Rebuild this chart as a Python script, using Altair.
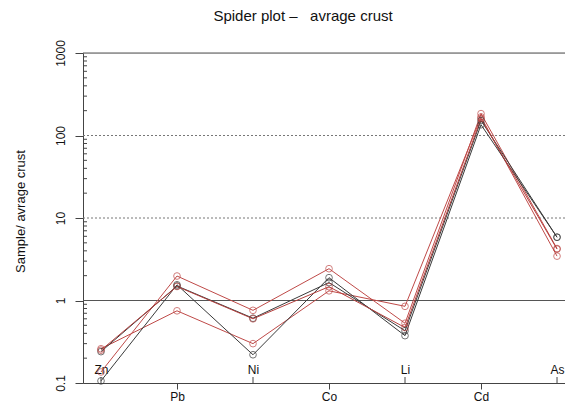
import altair as alt
import pandas as pd

# categories (elements) along the x axis
elements = ["Zn", "Pb", "Ni", "Co", "Li", "Cd", "As"]
inner_labels = ["Zn", "Ni", "Li", "As"]

# sample / average crust ratios
s1 = [0.136, 1.98, 0.76, 2.43, 0.53, 184, 4.26]
s2 = [0.26, 0.75, 0.30, 1.31, 0.85, 168, 3.45]
s3 = [0.24, 1.50, 0.61, 1.65, 0.43, 152, 5.85]
s4 = [0.106, 1.55, 0.22, 1.89, 0.375, 135, 5.85]
s5 = [0.25, 1.48, 0.60, 1.47, 0.47, 160, 4.20]

series_names = ["S1", "S2", "S3", "S4", "S5"]
series_values = [s1, s2, s3, s4, s5]
series_colors = ["#bf4a48", "#bf4a48", "#3a3a3a", "#3a3a3a", "#b5403e"]

y_ticks = [0.1, 1, 10, 100, 1000]
grid_vals = [1000, 100, 10, 1]
grid_dash = ["solid", "dot", "dot", "solid"]
minor_vals = [m * d for d in [0.1, 1, 10, 100] for m in range(2, 10)]

rows = []
for name, vals in zip(series_names, series_values):
    for i, (el, v) in enumerate(zip(elements, vals)):
        rows.append({"series": name, "element": el, "idx": i, "v": v})
df = pd.DataFrame(rows)

grid_df = pd.DataFrame({"v": grid_vals, "kind": grid_dash})
minor_df = pd.DataFrame({"v": minor_vals})
inner_df = pd.DataFrame({"idx": [elements.index(e) for e in inner_labels]})

FONT = "Liberation Sans"
W, H = 482, 330

yscale = alt.Scale(type="log", domain=[0.1, 1000], nice=False)
yaxis = alt.Axis(
    values=y_ticks, format="~g", grid=False, labelAngle=-90,
    labelAlign="center", labelBaseline="bottom", tickSize=8, labelPadding=8,
    labelFontSize=12, labelFont=FONT, labelColor="#111",
    domainColor="#444", tickColor="#444",
    titleFontSize=13, titleFont=FONT, titleFontWeight="normal",
    titleColor="#111", titlePadding=27, titleY=158,
)

xscale = alt.Scale(domain=[-0.2368, 6.105], nice=False, zero=False)
label_expr = "[" + ",".join("'%s'" % e for e in elements) + "][round(datum.value)]"
inner_test = "datum.value % 2 == 0"
xaxis = alt.Axis(
    values=list(range(len(elements))), labelExpr=label_expr,
    grid=False, labelAngle=0, title=None, labelFontSize=12, labelFont=FONT,
    labelColor="#111", domainColor="#444", tickSize=6, labelOverlap=False,
    labelFlush=False,
    labelPadding={"condition": {"test": inner_test, "value": -25}, "value": 2},
    tickColor={"condition": {"test": inner_test, "value": "transparent"}, "value": "#444"},
)

def Y():
    return alt.Y("v:Q", scale=yscale, axis=yaxis, title="Sample/ avrage crust")

def X():
    return alt.X("idx:Q", scale=xscale, axis=xaxis)

color = alt.Color("series:N", scale=alt.Scale(domain=series_names, range=series_colors), legend=None)

grid = alt.Chart(grid_df).mark_rule(strokeWidth=1).encode(
    y=Y(),
    color=alt.Color("kind:N", scale=alt.Scale(domain=["solid", "dot"], range=["#555", "#777"]), legend=None),
    strokeDash=alt.StrokeDash("kind:N", scale=alt.Scale(domain=["solid", "dot"], range=[[1, 0], [2, 2]]), legend=None),
)

lines = alt.Chart(df).mark_line(strokeWidth=1).encode(
    x=X(), y=Y(), color=color, detail="series:N", order="idx:Q"
)
points = alt.Chart(df).mark_point(shape="circle", size=45, filled=False, strokeWidth=1).encode(
    x=X(), y=Y(), color=color
)
minor = alt.Chart(minor_df).mark_rule(color="#444", strokeWidth=1).encode(
    y=Y(), x=alt.value(0), x2=alt.value(4)
)
inner_ticks = alt.Chart(inner_df).mark_rule(color="#444", strokeWidth=1).encode(
    x=X(), y=alt.value(H), y2=alt.value(H - 6)
)

chart = alt.layer(grid, lines, points, minor, inner_ticks).resolve_scale(
    color="independent"
).properties(
    width=W, height=H,
    autosize=alt.AutoSizeParams(type="none"),
    padding={"left": 75, "top": 45, "right": 0, "bottom": 21},
    title=alt.TitleParams(
        "Spider plot \u2013\u00a0\u00a0 avrage crust", fontSize=15, fontWeight="normal",
        font=FONT, color="#111", offset=16, dx=-21, frame="group",
    ),
).configure_view(stroke=None).configure(background="white")

chart.save("out.html", embed_options={"renderer": "svg", "actions": False})
